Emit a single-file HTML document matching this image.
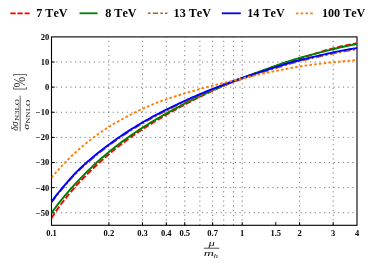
<!DOCTYPE html>
<html><head><meta charset="utf-8"><style>
html,body{margin:0;padding:0;background:#fff;}
body{width:374px;height:263px;overflow:hidden;font-family:"Liberation Serif",serif;}
svg{display:block}
text{font-family:"Liberation Serif",serif;}
.tk{font-weight:bold;font-size:8.5px;fill:#000;font-kerning:none}
.lg{font-weight:bold;font-size:12.15px;fill:#000;font-kerning:none}
</style></head><body>
<div style="will-change:transform;width:374px;height:263px">
<svg width="374" height="263" viewBox="0 0 374 263">
<rect width="374" height="263" fill="#fff"/>
<g stroke="#000" stroke-width="0.75" stroke-dasharray="1.2 3.5" fill="none" opacity="0.7">
<path d="M108.90 225.3 V36.9"/>
<path d="M142.48 225.3 V36.9"/>
<path d="M166.31 225.3 V36.9"/>
<path d="M184.79 225.3 V36.9"/>
<path d="M199.89 225.3 V36.9"/>
<path d="M212.65 225.3 V36.9"/>
<path d="M223.71 225.3 V36.9"/>
<path d="M233.47 225.3 V36.9"/>
<path d="M242.19 225.3 V36.9"/>
<path d="M299.60 225.3 V36.9"/>
<path d="M333.18 225.3 V36.9"/>
<path d="M51.5 212.74 H357.0"/>
<path d="M51.5 187.62 H357.0"/>
<path d="M51.5 162.50 H357.0"/>
<path d="M51.5 137.38 H357.0"/>
<path d="M51.5 112.26 H357.0"/>
<path d="M51.5 87.14 H357.0"/>
<path d="M51.5 62.02 H357.0"/>
</g>
<g stroke="#000" stroke-width="1" fill="none">
<path d="M108.90 225.3 v-3.2"/>
<path d="M142.48 225.3 v-3.2"/>
<path d="M166.31 225.3 v-3.2"/>
<path d="M184.79 225.3 v-3.2"/>
<path d="M212.65 225.3 v-3.2"/>
<path d="M242.19 225.3 v-3.2"/>
<path d="M275.77 225.3 v-3.2"/>
<path d="M299.60 225.3 v-3.2"/>
<path d="M333.18 225.3 v-3.2"/>
<path d="M51.5 212.74 h3.2"/>
<path d="M51.5 187.62 h3.2"/>
<path d="M51.5 162.50 h3.2"/>
<path d="M51.5 137.38 h3.2"/>
<path d="M51.5 112.26 h3.2"/>
<path d="M51.5 87.14 h3.2"/>
<path d="M51.5 62.02 h3.2"/>
</g>
<rect x="51.5" y="36.9" width="305.5" height="188.4" fill="none" stroke="#000" stroke-width="1.1"/>
<clipPath id="c"><rect x="51.5" y="36.9" width="306.1" height="188.4"/></clipPath>
<g fill="none" clip-path="url(#c)">
<path d="M51.50 218.16 L53.42 215.09 L55.34 212.15 L57.26 209.36 L59.19 206.66 L61.11 204.06 L63.03 201.55 L64.95 199.10 L66.87 196.70 L68.79 194.35 L70.71 192.05 L72.64 189.80 L74.56 187.59 L76.48 185.45 L78.40 183.35 L80.32 181.29 L82.24 179.26 L84.16 177.28 L86.08 175.32 L88.01 173.40 L89.93 171.50 L91.85 169.63 L93.77 167.80 L95.69 165.99 L97.61 164.20 L99.53 162.45 L101.46 160.72 L103.38 159.01 L105.30 157.34 L107.22 155.68 L109.14 154.06 L111.06 152.45 L112.98 150.88 L114.91 149.32 L116.83 147.79 L118.75 146.28 L120.67 144.79 L122.59 143.33 L124.51 141.88 L126.43 140.46 L128.36 139.05 L130.28 137.67 L132.20 136.30 L134.12 134.95 L136.04 133.62 L137.96 132.31 L139.88 131.01 L141.81 129.73 L143.73 128.47 L145.65 127.23 L147.57 126.00 L149.49 124.79 L151.41 123.60 L153.33 122.42 L155.25 121.25 L157.18 120.10 L159.10 118.96 L161.02 117.83 L162.94 116.71 L164.86 115.60 L166.78 114.51 L168.70 113.42 L170.63 112.34 L172.55 111.26 L174.47 110.19 L176.39 109.13 L178.31 108.07 L180.23 107.02 L182.15 105.98 L184.08 104.95 L186.00 103.92 L187.92 102.91 L189.84 101.90 L191.76 100.91 L193.68 99.93 L195.60 98.95 L197.53 97.99 L199.45 97.04 L201.37 96.11 L203.29 95.18 L205.21 94.26 L207.13 93.34 L209.05 92.44 L210.97 91.54 L212.90 90.64 L214.82 89.76 L216.74 88.87 L218.66 88.00 L220.58 87.12 L222.50 86.26 L224.42 85.40 L226.35 84.54 L228.27 83.70 L230.19 82.87 L232.11 82.05 L234.03 81.25 L235.95 80.47 L237.87 79.70 L239.80 78.95 L241.72 78.22 L243.64 77.51 L245.56 76.80 L247.48 76.11 L249.40 75.42 L251.32 74.74 L253.25 74.06 L255.17 73.38 L257.09 72.71 L259.01 72.03 L260.93 71.35 L262.85 70.68 L264.77 70.00 L266.69 69.32 L268.62 68.64 L270.54 67.97 L272.46 67.29 L274.38 66.62 L276.30 65.95 L278.22 65.28 L280.14 64.62 L282.07 63.96 L283.99 63.32 L285.91 62.68 L287.83 62.05 L289.75 61.43 L291.67 60.82 L293.59 60.22 L295.52 59.64 L297.44 59.07 L299.36 58.52 L301.28 57.96 L303.20 57.39 L305.12 56.81 L307.04 56.22 L308.97 55.62 L310.89 55.01 L312.81 54.40 L314.73 53.79 L316.65 53.17 L318.57 52.56 L320.49 51.95 L322.42 51.35 L324.34 50.75 L326.26 50.16 L328.18 49.60 L330.10 49.07 L332.02 48.56 L333.94 48.09 L335.86 47.62 L337.79 47.17 L339.71 46.73 L341.63 46.30 L343.55 45.88 L345.47 45.47 L347.39 45.07 L349.31 44.69 L351.24 44.32 L353.16 43.97 L355.08 43.63 L357.00 43.31" stroke="#ff0000" stroke-width="1.9" stroke-dasharray="5.9 2.2"/>
<path d="M51.50 212.96 L53.42 210.33 L55.34 207.73 L57.26 205.19 L59.19 202.70 L61.11 200.27 L63.03 197.91 L64.95 195.61 L66.87 193.35 L68.79 191.13 L70.71 188.95 L72.64 186.80 L74.56 184.69 L76.48 182.61 L78.40 180.57 L80.32 178.56 L82.24 176.58 L84.16 174.63 L86.08 172.71 L88.01 170.82 L89.93 168.96 L91.85 167.12 L93.77 165.31 L95.69 163.53 L97.61 161.77 L99.53 160.04 L101.46 158.34 L103.38 156.66 L105.30 155.01 L107.22 153.39 L109.14 151.80 L111.06 150.24 L112.98 148.70 L114.91 147.18 L116.83 145.69 L118.75 144.23 L120.67 142.78 L122.59 141.36 L124.51 139.96 L126.43 138.58 L128.36 137.22 L130.28 135.88 L132.20 134.55 L134.12 133.24 L136.04 131.95 L137.96 130.67 L139.88 129.41 L141.81 128.16 L143.73 126.93 L145.65 125.72 L147.57 124.51 L149.49 123.33 L151.41 122.16 L153.33 121.00 L155.25 119.86 L157.18 118.73 L159.10 117.61 L161.02 116.50 L162.94 115.41 L164.86 114.33 L166.78 113.26 L168.70 112.20 L170.63 111.15 L172.55 110.10 L174.47 109.06 L176.39 108.03 L178.31 107.01 L180.23 105.99 L182.15 104.98 L184.08 103.98 L186.00 102.99 L187.92 102.01 L189.84 101.03 L191.76 100.07 L193.68 99.12 L195.60 98.17 L197.53 97.24 L199.45 96.33 L201.37 95.42 L203.29 94.52 L205.21 93.63 L207.13 92.75 L209.05 91.87 L210.97 91.01 L212.90 90.15 L214.82 89.29 L216.74 88.45 L218.66 87.61 L220.58 86.78 L222.50 85.96 L224.42 85.14 L226.35 84.33 L228.27 83.53 L230.19 82.73 L232.11 81.95 L234.03 81.18 L235.95 80.43 L237.87 79.68 L239.80 78.95 L241.72 78.22 L243.64 77.50 L245.56 76.79 L247.48 76.09 L249.40 75.38 L251.32 74.68 L253.25 73.98 L255.17 73.28 L257.09 72.58 L259.01 71.87 L260.93 71.17 L262.85 70.46 L264.77 69.75 L266.69 69.05 L268.62 68.34 L270.54 67.64 L272.46 66.95 L274.38 66.25 L276.30 65.57 L278.22 64.89 L280.14 64.21 L282.07 63.54 L283.99 62.88 L285.91 62.23 L287.83 61.59 L289.75 60.95 L291.67 60.33 L293.59 59.73 L295.52 59.15 L297.44 58.57 L299.36 58.01 L301.28 57.47 L303.20 56.93 L305.12 56.41 L307.04 55.89 L308.97 55.38 L310.89 54.87 L312.81 54.37 L314.73 53.87 L316.65 53.38 L318.57 52.88 L320.49 52.39 L322.42 51.89 L324.34 51.39 L326.26 50.89 L328.18 50.40 L330.10 49.91 L332.02 49.43 L333.94 48.97 L335.86 48.50 L337.79 48.05 L339.71 47.60 L341.63 47.17 L343.55 46.73 L345.47 46.31 L347.39 45.90 L349.31 45.49 L351.24 45.09 L353.16 44.70 L355.08 44.31 L357.00 43.94" stroke="#007f00" stroke-width="1.95"/>
<path d="M51.50 202.87 L53.42 200.33 L55.34 197.84 L57.26 195.39 L59.19 192.99 L61.11 190.64 L63.03 188.33 L64.95 186.07 L66.87 183.84 L68.79 181.64 L70.71 179.47 L72.64 177.35 L74.56 175.29 L76.48 173.28 L78.40 171.35 L80.32 169.49 L82.24 167.69 L84.16 165.94 L86.08 164.23 L88.01 162.56 L89.93 160.92 L91.85 159.31 L93.77 157.71 L95.69 156.13 L97.61 154.57 L99.53 153.03 L101.46 151.52 L103.38 150.03 L105.30 148.56 L107.22 147.10 L109.14 145.66 L111.06 144.25 L112.98 142.85 L114.91 141.48 L116.83 140.12 L118.75 138.79 L120.67 137.47 L122.59 136.17 L124.51 134.89 L126.43 133.63 L128.36 132.39 L130.28 131.16 L132.20 129.95 L134.12 128.76 L136.04 127.58 L137.96 126.42 L139.88 125.28 L141.81 124.15 L143.73 123.03 L145.65 121.94 L147.57 120.85 L149.49 119.79 L151.41 118.73 L153.33 117.69 L155.25 116.66 L157.18 115.65 L159.10 114.64 L161.02 113.65 L162.94 112.66 L164.86 111.69 L166.78 110.73 L168.70 109.77 L170.63 108.82 L172.55 107.89 L174.47 106.96 L176.39 106.04 L178.31 105.13 L180.23 104.23 L182.15 103.33 L184.08 102.45 L186.00 101.58 L187.92 100.71 L189.84 99.85 L191.76 99.00 L193.68 98.16 L195.60 97.32 L197.53 96.50 L199.45 95.68 L201.37 94.87 L203.29 94.07 L205.21 93.28 L207.13 92.49 L209.05 91.70 L210.97 90.93 L212.90 90.16 L214.82 89.39 L216.74 88.64 L218.66 87.89 L220.58 87.14 L222.50 86.41 L224.42 85.68 L226.35 84.95 L228.27 84.23 L230.19 83.52 L232.11 82.82 L234.03 82.13 L235.95 81.45 L237.87 80.78 L239.80 80.11 L241.72 79.45 L243.64 78.80 L245.56 78.15 L247.48 77.51 L249.40 76.88 L251.32 76.24 L253.25 75.61 L255.17 74.99 L257.09 74.36 L259.01 73.74 L260.93 73.12 L262.85 72.50 L264.77 71.88 L266.69 71.26 L268.62 70.64 L270.54 70.03 L272.46 69.42 L274.38 68.82 L276.30 68.22 L278.22 67.62 L280.14 67.04 L282.07 66.46 L283.99 65.88 L285.91 65.32 L287.83 64.75 L289.75 64.19 L291.67 63.64 L293.59 63.11 L295.52 62.59 L297.44 62.08 L299.36 61.59 L301.28 61.11 L303.20 60.64 L305.12 60.17 L307.04 59.72 L308.97 59.27 L310.89 58.82 L312.81 58.39 L314.73 57.95 L316.65 57.52 L318.57 57.09 L320.49 56.65 L322.42 56.22 L324.34 55.78 L326.26 55.34 L328.18 54.91 L330.10 54.48 L332.02 54.07 L333.94 53.66 L335.86 53.26 L337.79 52.86 L339.71 52.48 L341.63 52.10 L343.55 51.74 L345.47 51.38 L347.39 51.03 L349.31 50.69 L351.24 50.36 L353.16 50.04 L355.08 49.73 L357.00 49.42" stroke="#ab6420" stroke-width="1.4" stroke-dasharray="7 2.5 2 2.5"/>
<path d="M51.50 201.61 L53.42 199.07 L55.34 196.58 L57.26 194.14 L59.19 191.74 L61.11 189.38 L63.03 187.07 L64.95 184.81 L66.87 182.59 L68.79 180.38 L70.71 178.22 L72.64 176.10 L74.56 174.03 L76.48 172.02 L78.40 170.09 L80.32 168.23 L82.24 166.43 L84.16 164.68 L86.08 162.97 L88.01 161.30 L89.93 159.66 L91.85 158.05 L93.77 156.45 L95.69 154.87 L97.61 153.31 L99.53 151.78 L101.46 150.27 L103.38 148.77 L105.30 147.30 L107.22 145.85 L109.14 144.41 L111.06 142.99 L112.98 141.60 L114.91 140.22 L116.83 138.87 L118.75 137.53 L120.67 136.21 L122.59 134.92 L124.51 133.64 L126.43 132.38 L128.36 131.13 L130.28 129.90 L132.20 128.69 L134.12 127.50 L136.04 126.33 L137.96 125.16 L139.88 124.02 L141.81 122.89 L143.73 121.78 L145.65 120.68 L147.57 119.60 L149.49 118.53 L151.41 117.48 L153.33 116.43 L155.25 115.41 L157.18 114.39 L159.10 113.38 L161.02 112.39 L162.94 111.41 L164.86 110.43 L166.78 109.47 L168.70 108.51 L170.63 107.57 L172.55 106.63 L174.47 105.70 L176.39 104.78 L178.31 103.87 L180.23 102.97 L182.15 102.08 L184.08 101.19 L186.00 100.32 L187.92 99.45 L189.84 98.59 L191.76 97.74 L193.68 96.90 L195.60 96.07 L197.53 95.24 L199.45 94.43 L201.37 93.62 L203.29 92.82 L205.21 92.02 L207.13 91.23 L209.05 90.45 L210.97 89.67 L212.90 88.90 L214.82 88.14 L216.74 87.38 L218.66 86.63 L220.58 85.89 L222.50 85.15 L224.42 84.42 L226.35 83.70 L228.27 82.98 L230.19 82.27 L232.11 81.57 L234.03 80.88 L235.95 80.19 L237.87 79.52 L239.80 78.85 L241.72 78.20 L243.64 77.54 L245.56 76.90 L247.48 76.26 L249.40 75.62 L251.32 74.99 L253.25 74.36 L255.17 73.73 L257.09 73.11 L259.01 72.49 L260.93 71.86 L262.85 71.24 L264.77 70.62 L266.69 70.00 L268.62 69.38 L270.54 68.77 L272.46 68.16 L274.38 67.56 L276.30 66.96 L278.22 66.37 L280.14 65.78 L282.07 65.20 L283.99 64.62 L285.91 64.04 L287.83 63.47 L289.75 62.91 L291.67 62.35 L293.59 61.81 L295.52 61.28 L297.44 60.77 L299.36 60.27 L301.28 59.78 L303.20 59.30 L305.12 58.83 L307.04 58.37 L308.97 57.92 L310.89 57.47 L312.81 57.02 L314.73 56.58 L316.65 56.14 L318.57 55.71 L320.49 55.27 L322.42 54.83 L324.34 54.40 L326.26 53.96 L328.18 53.53 L330.10 53.10 L332.02 52.68 L333.94 52.28 L335.86 51.87 L337.79 51.48 L339.71 51.10 L341.63 50.72 L343.55 50.35 L345.47 50.00 L347.39 49.65 L349.31 49.31 L351.24 48.98 L353.16 48.65 L355.08 48.34 L357.00 48.04" stroke="#0000ff" stroke-width="1.95"/>
<path d="M51.50 177.65 L53.42 175.35 L55.34 173.11 L57.26 170.92 L59.19 168.77 L61.11 166.67 L63.03 164.62 L64.95 162.62 L66.87 160.65 L68.79 158.73 L70.71 156.85 L72.64 155.02 L74.56 153.22 L76.48 151.46 L78.40 149.74 L80.32 148.06 L82.24 146.42 L84.16 144.81 L86.08 143.23 L88.01 141.69 L89.93 140.18 L91.85 138.70 L93.77 137.26 L95.69 135.84 L97.61 134.45 L99.53 133.10 L101.46 131.77 L103.38 130.47 L105.30 129.20 L107.22 127.96 L109.14 126.74 L111.06 125.56 L112.98 124.40 L114.91 123.26 L116.83 122.15 L118.75 121.07 L120.67 120.01 L122.59 118.97 L124.51 117.95 L126.43 116.95 L128.36 115.94 L130.28 114.92 L132.20 113.91 L134.12 112.91 L136.04 111.93 L137.96 110.96 L139.88 110.03 L141.81 109.13 L143.73 108.26 L145.65 107.41 L147.57 106.58 L149.49 105.76 L151.41 104.96 L153.33 104.18 L155.25 103.41 L157.18 102.66 L159.10 101.93 L161.02 101.21 L162.94 100.51 L164.86 99.83 L166.78 99.16 L168.70 98.50 L170.63 97.86 L172.55 97.22 L174.47 96.60 L176.39 95.99 L178.31 95.38 L180.23 94.78 L182.15 94.20 L184.08 93.62 L186.00 93.05 L187.92 92.48 L189.84 91.93 L191.76 91.37 L193.68 90.83 L195.60 90.29 L197.53 89.76 L199.45 89.23 L201.37 88.71 L203.29 88.19 L205.21 87.67 L207.13 87.17 L209.05 86.66 L210.97 86.16 L212.90 85.67 L214.82 85.17 L216.74 84.68 L218.66 84.20 L220.58 83.72 L222.50 83.24 L224.42 82.76 L226.35 82.29 L228.27 81.82 L230.19 81.35 L232.11 80.88 L234.03 80.41 L235.95 79.95 L237.87 79.48 L239.80 79.02 L241.72 78.56 L243.64 78.10 L245.56 77.65 L247.48 77.19 L249.40 76.74 L251.32 76.29 L253.25 75.85 L255.17 75.41 L257.09 74.97 L259.01 74.54 L260.93 74.11 L262.85 73.68 L264.77 73.26 L266.69 72.85 L268.62 72.44 L270.54 72.03 L272.46 71.64 L274.38 71.24 L276.30 70.85 L278.22 70.47 L280.14 70.09 L282.07 69.72 L283.99 69.35 L285.91 68.98 L287.83 68.63 L289.75 68.27 L291.67 67.92 L293.59 67.58 L295.52 67.24 L297.44 66.91 L299.36 66.59 L301.28 66.27 L303.20 65.96 L305.12 65.67 L307.04 65.40 L308.97 65.13 L310.89 64.88 L312.81 64.63 L314.73 64.39 L316.65 64.16 L318.57 63.94 L320.49 63.72 L322.42 63.50 L324.34 63.28 L326.26 63.06 L328.18 62.84 L330.10 62.62 L332.02 62.40 L333.94 62.19 L335.86 61.98 L337.79 61.78 L339.71 61.58 L341.63 61.39 L343.55 61.21 L345.47 61.03 L347.39 60.87 L349.31 60.71 L351.24 60.56 L353.16 60.42 L355.08 60.29 L357.00 60.18" stroke="#ff7f0e" stroke-width="1.9" stroke-dasharray="2.7 2.1"/>
</g>
<text class="tk" x="51.50" y="236" text-anchor="middle">0.1</text>
<text class="tk" x="108.90" y="236" text-anchor="middle">0.2</text>
<text class="tk" x="142.48" y="236" text-anchor="middle">0.3</text>
<text class="tk" x="166.31" y="236" text-anchor="middle">0.4</text>
<text class="tk" x="184.79" y="236" text-anchor="middle">0.5</text>
<text class="tk" x="212.65" y="236" text-anchor="middle">0.7</text>
<text class="tk" x="242.19" y="236" text-anchor="middle">1</text>
<text class="tk" x="275.77" y="236" text-anchor="middle">1.5</text>
<text class="tk" x="299.60" y="236" text-anchor="middle">2</text>
<text class="tk" x="333.18" y="236" text-anchor="middle">3</text>
<text class="tk" x="357.00" y="236" text-anchor="middle">4</text>
<text class="tk" x="49.2" y="39.80" text-anchor="end">20</text>
<text class="tk" x="49.2" y="64.92" text-anchor="end">10</text>
<text class="tk" x="49.2" y="90.04" text-anchor="end">0</text>
<text class="tk" x="49.2" y="115.16" text-anchor="end">−10</text>
<text class="tk" x="49.2" y="140.28" text-anchor="end">−20</text>
<text class="tk" x="49.2" y="165.40" text-anchor="end">−30</text>
<text class="tk" x="49.2" y="190.52" text-anchor="end">−40</text>
<text class="tk" x="49.2" y="215.64" text-anchor="end">−50</text>
<g fill="none" stroke-width="1.8">
<path d="M10.4 13.3 H29.7" stroke="#ff0000" stroke-dasharray="5.3 1.8"/>
<path d="M79.5 13.3 H97.6" stroke="#007f00"/>
<path d="M147.9 13.3 h2.6 m2.3 0 h5.4 m2.2 0 h2.6 m2 0 h2.4" stroke="#ab6420" stroke-width="1.5"/>
<path d="M221.8 13.3 H240.8" stroke="#0000ff"/>
<path d="M295.9 13.3 H313" stroke="#ff7f0e" stroke-dasharray="2.6 2.15"/>
</g>
<text class="lg" x="36.2" y="16.8">7 TeV</text>
<text class="lg" x="105.2" y="16.8">8 TeV</text>
<text class="lg" x="173.6" y="16.8">13 TeV</text>
<text class="lg" x="247.3" y="16.8">14 TeV</text>
<text class="lg" x="321.9" y="16.8">100 TeV</text>
<text transform="matrix(0.12553 0 0 0.07910 208.600 245.539)" font-size="100" font-style="italic" fill="#0a0a0a" style="font-kerning:none">μ</text>
<rect x="203.8" y="247.75" width="15.5" height="0.85" fill="#333"/>
<text transform="matrix(0.14219 0 0 0.08723 203.731 256.100)" font-size="100" font-style="italic" fill="#0a0a0a" style="font-kerning:none">m</text>
<text transform="matrix(0.09048 0 0 0.06957 213.538 257.900)" font-size="100" font-style="italic" fill="#0a0a0a" style="font-kerning:none">h</text>
<text transform="matrix(0 -0.12727 0.17313 0 24.754 87.382)" font-size="100" font-style="normal" fill="#333" style="font-kerning:none">%</text>
<path d="M13.6 87.2 V89.05 H26.55 V87.2 M13.6 76.2 V74.55 H26.55 V76.2" fill="none" stroke="#333" stroke-width="0.75"/>
<text transform="matrix(0 -0.09687 0.09296 0 18.107 130.791)" font-size="100" font-style="italic" fill="#0a0a0a" style="font-kerning:none">δσ</text>
<text transform="matrix(0 -0.08629 0.06866 0 19.463 120.959)" font-size="100" font-style="normal" fill="#0a0a0a" style="font-kerning:none">N3LO</text>
<rect x="19.75" y="95.6" width="0.75" height="35.6" fill="#333"/>
<text transform="matrix(0 -0.12041 0.07500 0 28.725 129.861)" font-size="100" font-style="italic" fill="#111" style="font-kerning:none">σ</text>
<text transform="matrix(0 -0.08672 0.06269 0 29.775 123.660)" font-size="100" font-style="normal" fill="#0a0a0a" style="font-kerning:none">NNLO</text>
</svg></div></body></html>
